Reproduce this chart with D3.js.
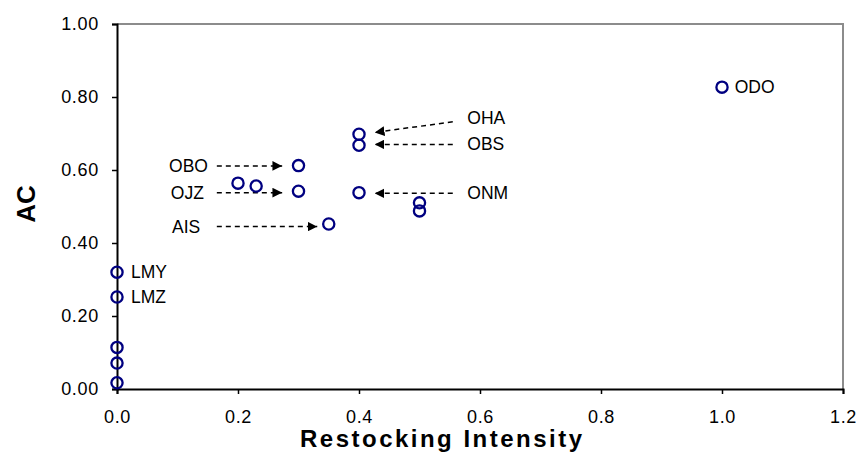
<!DOCTYPE html>
<html>
<head>
<meta charset="utf-8">
<script src="https://cdn.jsdelivr.net/npm/d3@7"></script>
<style>
  body { margin: 0; background: #fff; }
  text { font-family: "Liberation Sans", Arial, sans-serif; }
</style>
</head>
<body>
<div id="chart"></div>
<script>
// data
const restocking = [0, 0, 0, 0, 0, 0.2, 0.23, 0.3, 0.3, 0.35, 0.4, 0.4, 0.4, 0.5, 0.5, 1.0];
const acValues   = [0.017, 0.071, 0.114, 0.252, 0.32, 0.564, 0.556, 0.612, 0.542, 0.452, 0.698, 0.668, 0.538, 0.51, 0.488, 0.827];
const xTicks = [0, 0.2, 0.4, 0.6, 0.8, 1.0, 1.2];
const yTicks = [0, 0.2, 0.4, 0.6, 0.8, 1.0];

// plain labels next to points: [name, x, y]
const plainLabels = [
  ["LMY", 0.023, 0.32],
  ["LMZ", 0.023, 0.252],
  ["ODO", 1.021, 0.827]
];
// arrow labels: [name, textX, textY, fromX, fromY, toX, toY]
const arrowLabels = [
  ["OBO", 0.086, 0.611, 0.165, 0.611, 0.273, 0.611],
  ["OJZ", 0.089, 0.538, 0.165, 0.538, 0.273, 0.538],
  ["AIS", 0.091, 0.445, 0.165, 0.445, 0.331, 0.445],
  ["OHA", 0.579, 0.742, 0.555, 0.732, 0.426, 0.703],
  ["OBS", 0.579, 0.672, 0.555, 0.670, 0.426, 0.670],
  ["ONM", 0.579, 0.536, 0.555, 0.536, 0.426, 0.536]
];

const W = 858, H = 457;
const margin = {top: 24, right: 15, bottom: 68, left: 117};

const svg = d3.select("#chart").append("svg")
  .attr("width", W)
  .attr("height", H);

const x = d3.scaleLinear().domain([0, 1.2]).range([margin.left, W - margin.right]);
const y = d3.scaleLinear().domain([0, 1]).range([H - margin.bottom, margin.top]);

svg.append("defs").append("marker")
  .attr("id", "arrow")
  .attr("viewBox", "0 0 10 10")
  .attr("refX", 10).attr("refY", 5)
  .attr("markerWidth", 6.5).attr("markerHeight", 6.5)
  .attr("markerUnits", "strokeWidth")
  .attr("orient", "auto")
  .append("path")
  .attr("d", "M0,0 L10,5 L0,10 Z")
  .attr("fill", "#000");

// gray frame on top and right
svg.append("path")
  .attr("d", "M" + x(0) + "," + y(1) + "H" + x(1.2) + "V" + y(0))
  .attr("fill", "none")
  .attr("stroke", "#8c8c8c")
  .attr("stroke-width", 2);

const xAxis = svg.append("g")
  .attr("transform", "translate(0," + y(0) + ")")
  .call(d3.axisBottom(x).tickValues(xTicks).tickFormat(d3.format(".1f")).tickSize(5).tickPadding(16));

const yAxis = svg.append("g")
  .attr("transform", "translate(" + x(0) + ",0)")
  .call(d3.axisLeft(y).tickValues(yTicks).tickFormat(d3.format(".2f")).tickSize(5).tickPadding(13));

[xAxis, yAxis].forEach(function (g) {
  g.select(".domain").attr("stroke", "#000").attr("stroke-width", 2);
  g.selectAll(".tick line").attr("stroke", "#000").attr("stroke-width", 1.5);
  g.selectAll(".tick text")
    .attr("fill", "#000")
    .style("font-size", "18px")
    .style("letter-spacing", "0.7px")
    .style("font-family", "'Liberation Sans', Arial, sans-serif");
});

svg.append("text")
  .attr("x", 300).attr("y", 447)
  .attr("textLength", 282)
  .attr("lengthAdjust", "spacing")
  .style("font-size", "24px")
  .style("font-weight", "bold")
  .text("Restocking Intensity");

svg.append("text")
  .attr("transform", "translate(35,204) rotate(-90)")
  .attr("text-anchor", "middle")
  .style("font-size", "26px")
  .style("font-weight", "bold")
  .text("AC");

// arrows
svg.selectAll(".arrow")
  .data(arrowLabels).enter()
  .append("line")
  .attr("class", "arrow")
  .attr("x1", function (d) { return x(d[3]); })
  .attr("y1", function (d) { return y(d[4]); })
  .attr("x2", function (d) { return x(d[5]); })
  .attr("y2", function (d) { return y(d[6]); })
  .attr("stroke", "#000")
  .attr("stroke-width", 1.5)
  .attr("stroke-dasharray", "5,4")
  .attr("marker-end", "url(#arrow)");

svg.selectAll(".alabel")
  .data(arrowLabels.concat(plainLabels.map(function (d) { return [d[0], d[1], d[2]]; }))).enter()
  .append("text")
  .attr("class", "alabel")
  .attr("x", function (d) { return x(d[1]); })
  .attr("y", function (d) { return y(d[2]); })
  .attr("dy", "0.35em")
  .style("font-size", "17.5px")
  .text(function (d) { return d[0]; });

// points
svg.selectAll(".pt")
  .data(d3.range(restocking.length)).enter()
  .append("circle")
  .attr("class", "pt")
  .attr("cx", function (i) { return x(restocking[i]); })
  .attr("cy", function (i) { return y(acValues[i]); })
  .attr("r", 5.6)
  .attr("fill", "none")
  .attr("stroke", "#000080")
  .attr("stroke-width", 2.3);
</script>
</body>
</html>
